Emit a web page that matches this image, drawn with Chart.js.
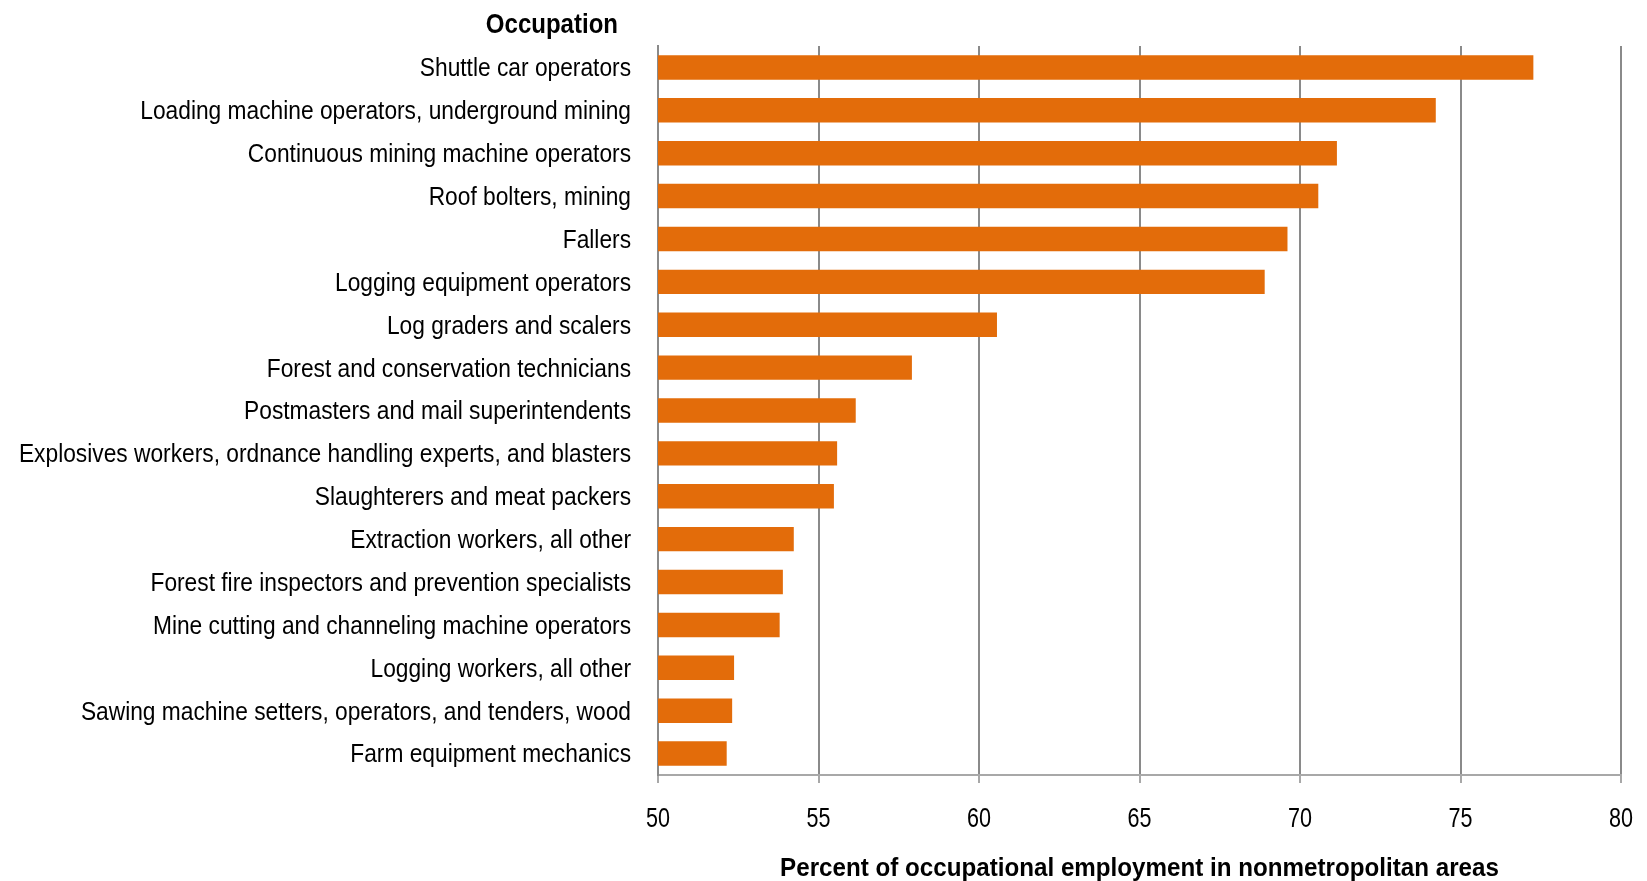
<!DOCTYPE html>
<html>
<head>
<meta charset="utf-8">
<script src="https://cdn.jsdelivr.net/npm/chart.js@4"></script>
<style>
  html, body { margin: 0; padding: 0; background: #ffffff; }
  #wrap { width: 1647px; height: 881px; position: relative; }
</style>
</head>
<body>
<div id="wrap"><canvas id="c" width="1647" height="881"></canvas></div>
<script>
const categories = [
  "Shuttle car operators",
  "Loading machine operators, underground mining",
  "Continuous mining machine operators",
  "Roof bolters, mining",
  "Fallers",
  "Logging equipment operators",
  "Log graders and scalers",
  "Forest and conservation technicians",
  "Postmasters and mail superintendents",
  "Explosives workers, ordnance handling experts, and blasters",
  "Slaughterers and meat packers",
  "Extraction workers, all other",
  "Forest fire inspectors and prevention specialists",
  "Mine cutting and channeling machine operators",
  "Logging workers, all other",
  "Sawing machine setters, operators, and tenders, wood",
  "Farm equipment mechanics"
];
const values = [77.27, 74.23, 71.15, 70.57, 69.61, 68.9, 60.56, 57.91, 56.16, 55.58, 55.48, 54.23, 53.89, 53.79, 52.37, 52.31, 52.14];
const axisMin = 50, axisMax = 80, axisStep = 5;
const yAxisTitle = "Occupation";
const xAxisTitle = "Percent of occupational employment in nonmetropolitan areas";

const FONT = "'Liberation Sans', Arial, sans-serif";

// Narrow-font emulation: compress text horizontally (text stays real canvas text)
const canvas = document.getElementById('c');
const ctx2d = canvas.getContext('2d');
function narrowFactor(font) {
  if (font.indexOf('bold') >= 0 || font.indexOf('700') >= 0) {
    return font.indexOf('27px') >= 0 ? 0.89 : 0.93;
  }
  if (font.indexOf('28px') >= 0) return 0.77;
  return 0.91;
}
const origFill = ctx2d.fillText.bind(ctx2d);
const origMeasure = ctx2d.measureText.bind(ctx2d);
ctx2d.fillText = function (text, x, y, maxWidth) {
  const sx = narrowFactor(ctx2d.font);
  ctx2d.save();
  ctx2d.translate(x, y);
  ctx2d.scale(sx, 1);
  origFill(text, 0, 0);
  ctx2d.restore();
};
ctx2d.measureText = function (text) {
  const m = origMeasure(text);
  return { width: m.width * narrowFactor(ctx2d.font),
           actualBoundingBoxAscent: m.actualBoundingBoxAscent,
           actualBoundingBoxDescent: m.actualBoundingBoxDescent };
};

const cornerTitle = {
  id: 'cornerTitle',
  afterDraw(chart) {
    const ctx = chart.ctx;
    ctx.save();
    ctx.font = "bold 27px " + FONT;
    ctx.fillStyle = '#000';
    ctx.textAlign = 'right';
    ctx.textBaseline = 'middle';
    ctx.fillText(yAxisTitle, chart.chartArea.left - 40, 26);
    ctx.restore();
  }
};

new Chart(canvas, {
  type: 'bar',
  data: {
    labels: categories,
    datasets: [{
      data: values,
      backgroundColor: '#E36C0A',
      borderWidth: 0,
      categoryPercentage: 1.0,
      barPercentage: 0.57
    }]
  },
  options: {
    indexAxis: 'y',
    responsive: false,
    animation: false,
    devicePixelRatio: 1,
    layout: { padding: { top: 46, right: 26, left: 0, bottom: 0 } },
    plugins: { legend: { display: false }, tooltip: { enabled: false } },
    scales: {
      x: {
        type: 'linear',
        position: 'bottom',
        min: axisMin,
        max: axisMax,
        ticks: { stepSize: axisStep, color: '#000', padding: 19, font: { family: FONT, size: 28 } },
        grid: { color: '#8a8a8a', lineWidth: 2, drawTicks: true, tickLength: 8, tickColor: '#a8a8a8' },
        border: { display: true, color: '#a8a8a8', width: 2 },
        title: { display: true, text: xAxisTitle, color: '#000', padding: { top: 0, bottom: -3 }, font: { family: FONT, size: 26, weight: 'bold' } },
        afterFit(scale) { scale.height = 106; scale.paddingLeft = 0; scale.paddingRight = 0; }
      },
      y: {
        ticks: { color: '#000', padding: 27, labelOffset: 2, font: { family: FONT, size: 25 } },
        grid: { display: false, drawTicks: false },
        border: { display: true, color: '#8a8a8a', width: 2 },
        afterFit(scale) { scale.width = 658; scale.paddingTop = 0; scale.paddingBottom = 0; }
      }
    }
  },
  plugins: [cornerTitle]
});
</script>
</body>
</html>
